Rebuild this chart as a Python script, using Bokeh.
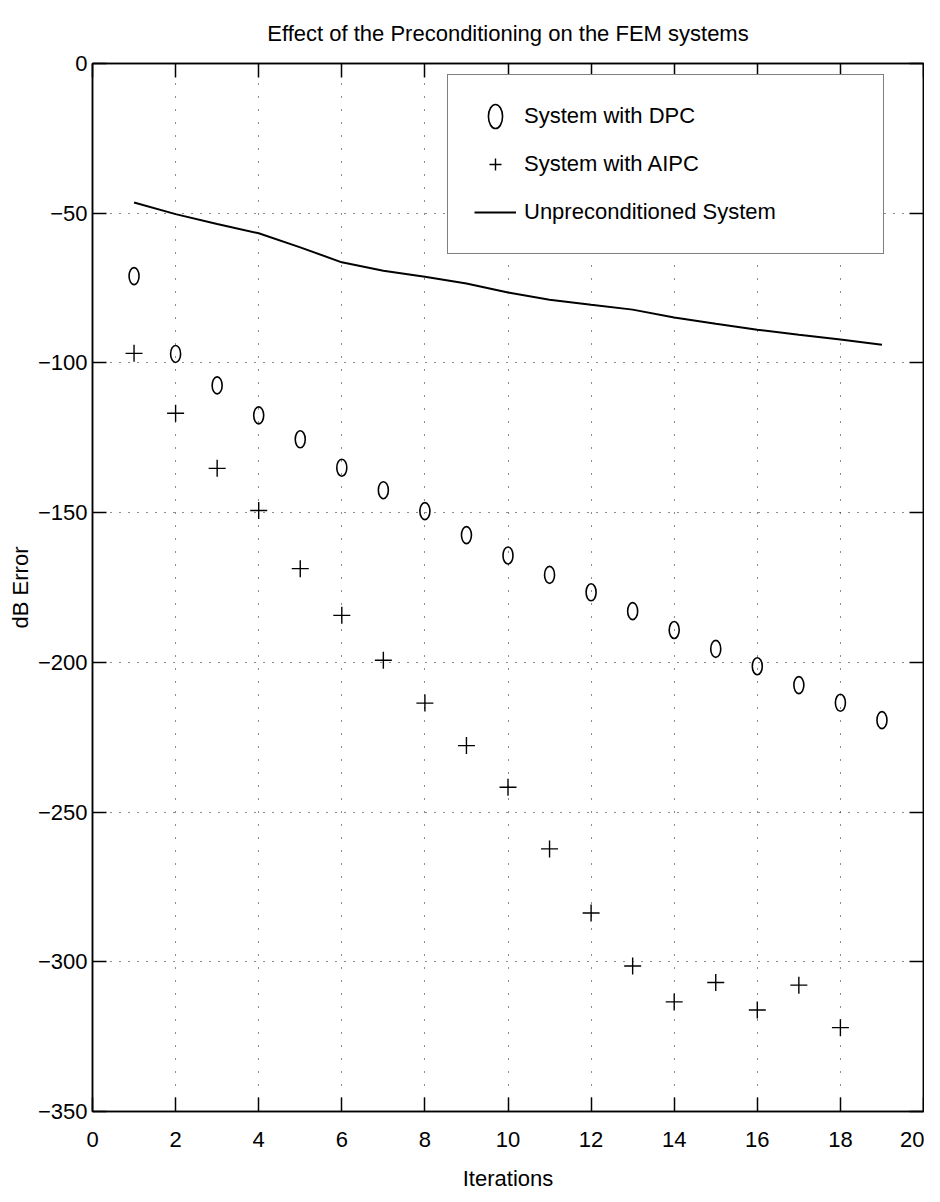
from bokeh.plotting import figure
from bokeh.models import (Range1d, FixedTicker, LinearAxis, Legend, LegendItem,
                          CustomJSTickFormatter)
from bokeh.embed import file_html
from bokeh.resources import INLINE

# ---- data ----
iter_dpc = list(range(1, 20))
dpc_db = [-71, -97, -107.5, -117.5, -125.5, -135, -142.5, -149.5, -157.5, -164.3,
          -170.8, -176.6, -182.9, -189.2, -195.5, -201.3, -207.6, -213.5, -219.3]

iter_aipc = list(range(1, 19))
aipc_db = [-96.8, -116.8, -135.2, -149.3, -168.7, -184.3, -199.3, -213.6, -227.8, -241.7,
           -262.3, -283.7, -301.4, -313.4, -306.9, -316.1, -307.8, -322.0]

iter_unp = list(range(1, 20))
unp_db = [-46.4, -50.3, -53.6, -56.7, -61.4, -66.4, -69.2, -71.2, -73.5, -76.5,
          -78.9, -80.6, -82.2, -84.8, -86.9, -88.9, -90.6, -92.2, -93.9]

x_ticks = [0, 2, 4, 6, 8, 10, 12, 14, 16, 18, 20]
y_ticks = [-350, -300, -250, -200, -150, -100, -50, 0]
y_tick_labels = ["\u2212350", "\u2212300", "\u2212250", "\u2212200", "\u2212150", "\u2212100", "\u221250", "0"]

title_text = "Effect of the Preconditioning on the FEM systems"
x_label = "Iterations"
y_label = "dB Error"
legend_labels = ["System with DPC", "System with AIPC", "Unpreconditioned System"]

FONT = "Liberation Sans"

p = figure(width=924, height=1194, output_backend="svg", toolbar_location=None,
           x_range=Range1d(0, 20), y_range=Range1d(-350, 0),
           min_border_left=92, min_border_right=1, min_border_top=63, min_border_bottom=83)

p.title.text = title_text
p.title.align = "center"
p.title.vertical_align = "top"
p.title.offset = 6
p.title.text_font = FONT
p.title.text_font_size = "22px"
p.title.text_font_style = "normal"
p.title.text_color = "black"
p.title.standoff = 32

p.outline_line_color = "black"
p.outline_line_width = 1.5

# main axes
xa = p.xaxis[0]
ya = p.yaxis[0]
xa.ticker = FixedTicker(ticks=x_ticks)
ya.ticker = FixedTicker(ticks=y_ticks)
ya.major_label_overrides = {t: l for t, l in zip(y_ticks, y_tick_labels)}
for ax in (xa, ya):
    ax.major_tick_in = 14
    ax.major_tick_out = 0
    ax.minor_tick_in = 0
    ax.minor_tick_out = 0
    ax.axis_line_width = 1.5
    ax.major_tick_line_width = 1.5
    ax.major_label_text_font = FONT
    ax.major_label_text_font_size = "22px"
    ax.major_label_text_color = "black"
    ax.axis_label_text_color = "black"
    ax.axis_label_text_font_style = "normal"
    ax.axis_label_text_font = FONT
    ax.axis_label_text_font_size = "22px"
xa.major_label_standoff = 20
ya.major_label_standoff = 5
xa.axis_label = x_label
xa.axis_label_standoff = 16
ya.axis_label = y_label
ya.axis_label_standoff = 2

# mirror axes (ticks only, no labels)
blank = CustomJSTickFormatter(code="return ''")
for loc, tks in (("above", x_ticks), ("right", y_ticks)):
    ax = LinearAxis(ticker=FixedTicker(ticks=tks), formatter=blank)
    ax.major_tick_in = 14
    ax.major_tick_out = 0
    ax.minor_tick_in = 0
    ax.minor_tick_out = 0
    ax.axis_line_width = 1.5
    ax.major_tick_line_width = 1.5
    ax.major_label_standoff = 0
    p.add_layout(ax, loc)

# grid
p.xgrid.ticker = FixedTicker(ticks=x_ticks)
p.ygrid.ticker = FixedTicker(ticks=y_ticks)
p.xgrid.grid_line_color = "black"
p.ygrid.grid_line_color = "black"
p.xgrid.grid_line_dash = "1 12"
p.ygrid.grid_line_dash = "1 8"
p.xgrid.grid_line_width = 1
p.ygrid.grid_line_width = 1
p.xgrid.grid_line_alpha = 0.9
p.ygrid.grid_line_alpha = 0.9

# data
r_dpc = p.ellipse(x=iter_dpc, y=dpc_db, width=10, height=17, width_units="screen",
                  height_units="screen", fill_color=None, line_color="black", line_width=1.6)
r_aipc = p.scatter(x=iter_aipc, y=aipc_db, marker="cross", size=17,
                   line_color="black", line_width=1.4)
r_unp = p.line(x=iter_unp, y=unp_db, line_color="black", line_width=2)

legend = Legend(items=[LegendItem(label=legend_labels[0], renderers=[r_dpc]),
                       LegendItem(label=legend_labels[1], renderers=[r_aipc]),
                       LegendItem(label=legend_labels[2], renderers=[r_unp])],
                location=(355, 857), margin=0, padding=26, spacing=18,
                glyph_width=42, glyph_height=30, label_height=30, label_width=333,
                label_standoff=8, label_text_font=FONT, label_text_font_size="22px",
                label_text_color="black",
                border_line_color="black", border_line_width=1.5,
                background_fill_color="white", background_fill_alpha=1.0)
p.add_layout(legend, "center")

open("out.html", "w").write(file_html(p, INLINE))
